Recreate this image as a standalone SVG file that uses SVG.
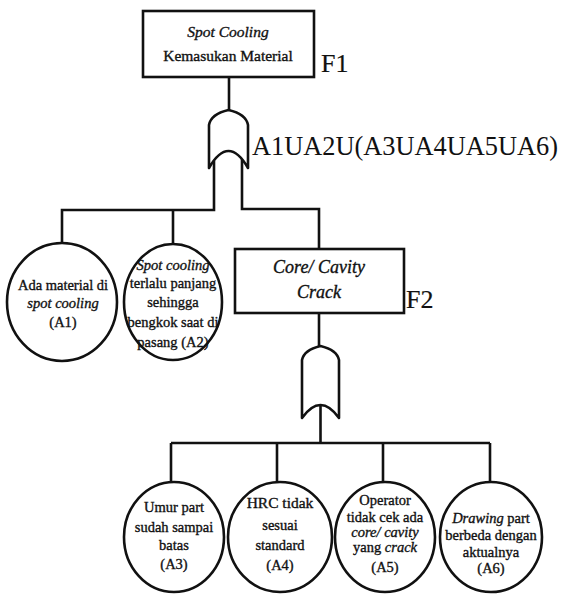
<svg xmlns="http://www.w3.org/2000/svg" width="566" height="594" viewBox="0 0 566 594">
  <style>
    .box { fill: #fff; stroke: #111; stroke-width: 2.6; }
    .evt { fill: #fff; stroke: #111; stroke-width: 2.6; }
    .gate { fill: #fff; stroke: #111; stroke-width: 2.6; stroke-linejoin: round; }
    .wire { fill: none; stroke: #111; stroke-width: 2.6; }
    text { font-family: "Liberation Serif", "Times New Roman", serif; fill: #111; stroke: #111; stroke-width: 0.35; text-anchor: middle; }
    .t14 { font-size: 14.5px; }
    .t15 { font-size: 15.5px; }
    .t18 { font-size: 18px; }
    .lbl { font-size: 26px; text-anchor: start; stroke-width: 0.2; }
    .it { font-style: italic; }
    .expr { font-size: 27px; text-anchor: start; stroke-width: 0; }
  </style>
  <rect width="566" height="594" fill="#fff"/>

  <!-- connectors -->
  <g id="connectors">
    <path class="wire" d="M229,77 V112"/>
    <path class="wire" d="M214,161 V210 H62 V243"/>
    <path class="wire" d="M173,210 V245"/>
    <path class="wire" d="M242,158 V209 H319 V249"/>
    <path class="wire" d="M319,313 V347"/>
    <path class="wire" d="M320.5,405 V443"/>
    <path class="wire" d="M171,443 H490"/>
    <path class="wire" d="M171,443 V482 M277,443 V482 M383,443 V482 M490,443 V482"/>
  </g>

  <!-- top event F1 -->
  <g id="F1">
    <rect class="box" x="143" y="11" width="171" height="66"/>
    <text class="t15 it" x="228" y="37">Spot Cooling</text>
    <text class="t15" x="228" y="61">Kemasukan Material</text>
    <text class="lbl" x="321" y="72">F1</text>
  </g>

  <!-- OR gate under F1 -->
  <g id="G1">
    <path class="gate" d="M209,168 V125 Q211,114 228.5,110 Q246,114 248,125 V168 Q228.5,134 209,168 Z"/>
    <text class="expr" x="252" y="155" textLength="306" lengthAdjust="spacingAndGlyphs">A1UA2U(A3UA4UA5UA6)</text>
  </g>

  <!-- basic events A1, A2 -->
  <g id="A1">
    <ellipse class="evt" cx="62" cy="302" rx="55" ry="59"/>
    <text class="t14" x="63" y="290">Ada material di</text>
    <text class="t14 it" x="63" y="308">spot cooling</text>
    <text class="t14" x="63" y="327">(A1)</text>
  </g>
  <g id="A2">
    <ellipse class="evt" cx="173" cy="302" rx="49" ry="58"/>
    <text class="t14 it" x="173" y="270">Spot cooling</text>
    <text class="t14" x="173" y="288">terlalu panjang</text>
    <text class="t14" x="173" y="307">sehingga</text>
    <text class="t14" x="173" y="327">bengkok saat di</text>
    <text class="t14" x="173" y="347">pasang (A2)</text>
  </g>

  <!-- intermediate event F2 -->
  <g id="F2">
    <rect class="box" x="235" y="249" width="169" height="64"/>
    <text class="t18 it" x="319" y="273">Core/ Cavity</text>
    <text class="t18 it" x="319" y="298">Crack</text>
    <text class="lbl" x="406" y="308">F2</text>
  </g>

  <!-- OR gate under F2 -->
  <g id="G2">
    <path class="gate" d="M302,418 V360 Q304,350 320.5,346 Q337,350 339,360 V418 Q320.5,392 302,418 Z"/>
  </g>

  <!-- basic events A3..A6 -->
  <g id="A3">
    <ellipse class="evt" cx="174" cy="537" rx="50" ry="55"/>
    <text class="t14" x="174" y="512">Umur part</text>
    <text class="t14" x="174" y="532">sudah sampai</text>
    <text class="t14" x="174" y="550">batas</text>
    <text class="t14" x="174" y="569">(A3)</text>
  </g>
  <g id="A4">
    <ellipse class="evt" cx="280" cy="537" rx="52" ry="55"/>
    <text class="t15" x="280" y="508">HRC tidak</text>
    <text class="t14" x="280" y="530">sesuai</text>
    <text class="t14" x="280" y="550">standard</text>
    <text class="t14" x="280" y="570">(A4)</text>
  </g>
  <g id="A5">
    <ellipse class="evt" cx="385" cy="537" rx="50" ry="55"/>
    <text class="t14" x="385" y="505">Operator</text>
    <text class="t14" x="385" y="522">tidak cek ada</text>
    <text class="t14 it" x="385" y="537">core/ cavity</text>
    <text class="t14" x="385" y="552">yang <tspan class="it">crack</tspan></text>
    <text class="t14" x="385" y="572">(A5)</text>
  </g>
  <g id="A6">
    <ellipse class="evt" cx="491" cy="537" rx="51" ry="55"/>
    <text class="t14" x="491" y="523"><tspan class="it">Drawing</tspan> part</text>
    <text class="t14" x="491" y="540">berbeda dengan</text>
    <text class="t14" x="491" y="557">aktualnya</text>
    <text class="t14" x="491" y="573">(A6)</text>
  </g>
</svg>
